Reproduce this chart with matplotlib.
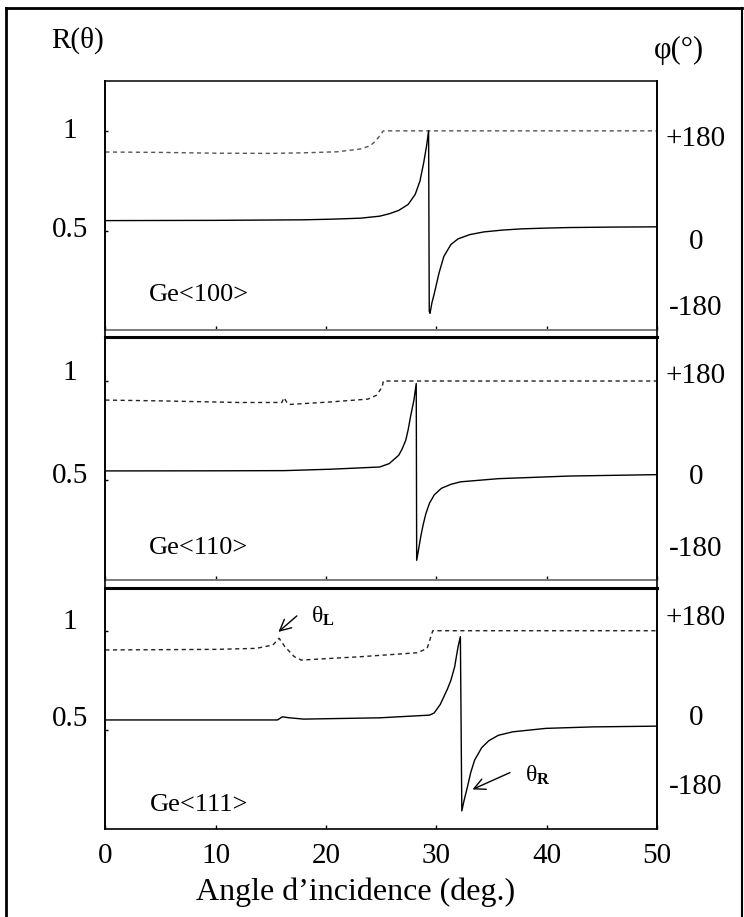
import matplotlib
matplotlib.use("Agg")
import matplotlib.pyplot as plt
from matplotlib.lines import Line2D
from matplotlib.transforms import blended_transform_factory, ScaledTranslation

plt.rcParams["font.family"] = ["Liberation Serif", "DejaVu Serif"]
plt.rcParams["mathtext.fontset"] = "custom"
plt.rcParams["mathtext.rm"] = "Liberation Serif"
plt.rcParams["mathtext.bf"] = "Liberation Serif:bold"
plt.rcParams["mathtext.it"] = "Liberation Serif:italic"

# ---------------- data ----------------
crystals = ["Ge<100>", "Ge<110>", "Ge<111>"]

# reflectivity R(theta)  (dashed)
r100_angle = [0, 5, 10, 15, 18, 21, 23.1, 24.0, 24.4, 24.8, 25.2, 30, 40, 50]
r100_value = [0.894, 0.892, 0.888, 0.887, 0.890, 0.895, 0.909, 0.925, 0.944, 0.970, 1.0, 1.0, 1.0, 1.0]

r110_angle = [0, 5, 12, 16.0, 16.2, 16.5, 16.7, 20.5, 23.8, 24.6, 25.1, 25.2, 30, 40, 50]
r110_value = [0.904, 0.900, 0.892, 0.892, 0.916, 0.888, 0.882, 0.895, 0.909, 0.929, 0.971, 1.0, 1.0, 1.0, 1.0]

r111_angle = [0, 10, 13.68, 15.19, 15.75, 16.27, 17.13, 17.77, 23.15, 28.31, 29.17, 29.51, 29.68, 40, 50]
r111_value = [0.903, 0.906, 0.911, 0.928, 0.962, 0.920, 0.869, 0.852, 0.869, 0.889, 0.911, 0.970, 1.0, 1.0, 1.0]

# phase phi (degrees)  (solid)
p100_angle = [0, 10, 17.98, 20.56, 23.14, 24.87, 25.73, 26.59, 27.45, 28.09, 28.52, 28.86,
              29.12, 29.30, 29.36, 29.43, 29.60, 29.82, 30.24, 30.68, 31.32, 31.97, 33.04,
              34.33, 36.0, 37.77, 40.0, 42.07, 46.0, 50]
p100_value = [0, 0.5, 1.6, 2.9, 4.9, 8.9, 13.7, 20.4, 32.5, 52.7, 79.6, 116.7,
              150.3, 180, -182, -186, -165, -146, -105.5, -72, -48, -36.6, -28,
              -22.6, -19, -16.5, -15, -13.9, -13, -12.5]

p110_angle = [0, 10, 16.27, 20.5, 24.87, 25.73, 26.59, 26.9, 27.23, 27.45, 27.66, 27.97, 28.18,
              28.22, 28.4, 28.6, 28.8, 29.04, 29.38, 29.82, 30.46, 31.32, 32.18, 35.62, 42.07, 50]
p110_value = [-1, -0.8, -0.4, 2.5, 6.9, 13.7, 30.5, 43, 60.8, 82, 108, 141.6, 175,
              -181, -158, -132, -110, -88, -66, -49, -36, -28, -23, -16.6, -11.3, -8.5]

p111_angle = [0, 15.6, 16.05, 16.7, 17.98, 24.87, 29.38, 29.8, 30.35, 31.0, 31.32, 31.66, 31.97,
              32.18, 32.31, 32.52, 32.82, 33.12, 33.47, 34.11, 34.75, 35.62, 36.91, 39.92,
              44.2, 50]
p111_value = [0, 0, 6.3, 4.3, 1.7, 4.3, 9.7, 14, 31, 62, 80, 107, 147.7,
              168, -183.6, -162, -135, -106, -81, -56, -42, -31, -24, -17,
              -14, -12.5]

x_ticks = [0, 10, 20, 30, 40, 50]
r_ticks = [1, 0.5]
phase_ticks = [180, 0, -180]
phase_labels = ["+180", "0", "-180"]

refl = [(r100_angle, r100_value), (r110_angle, r110_value), (r111_angle, r111_value)]
phase = [(p100_angle, p100_value), (p110_angle, p110_value), (p111_angle, p111_value)]

# ---------------- layout (pixels) ----------------
W, H = 744, 917
fig = plt.figure(figsize=(W / 100, H / 100), dpi=100)

x_left, x_right = 105.3, 657.0
panels_px = [(81.0, 330.3), (337.3, 579.7), (587.7, 829.0)]
r_top = [1.25, 1.22, 1.217]
deg_per_r = 400.0  # phase scale: 180 deg sits at R = 1

# vertical pixel offsets of the printed axis numbers (down = positive)
left_offsets = [(0, -1), (-8, -4), (-9, -11)]
right_offsets = [(8, 21, -2), (-5, 7, -11), (-13, -2, -22)]
label_y = [0.1416, 0.131, 0.0995]
dash_colors = ["#555555", "#222222", "#222222"]

def fx(px):
    return px / W

def fy(py):
    return 1 - py / H

def px_offset(dy):
    return ScaledTranslation(0, -dy / 100, fig.dpi_scale_trans)

axes = []
for i, (top, bot) in enumerate(panels_px):
    ax = fig.add_axes([fx(x_left), fy(bot), fx(x_right) - fx(x_left), (bot - top) / H])
    axes.append(ax)
    ax.set_xlim(0, 50)
    ax.set_ylim(0, r_top[i])

    a, v = refl[i]
    ax.plot(a, v, color=dash_colors[i], lw=1.0, dashes=(3, 2.5))

    axp = ax.twinx()
    axp.set_ylim(180 + (0 - 1) * deg_per_r, 180 + (r_top[i] - 1) * deg_per_r)
    a, v = phase[i]
    axp.plot(a, v, color="black", lw=1.0)
    for s in axp.spines.values():
        s.set_visible(False)
    axp.set_yticks([])

    # frame
    for s in ax.spines.values():
        s.set_color("black")
        s.set_linewidth(1.2)
    if i == 0:
        ax.spines["top"].set_linewidth(1.1)
    else:
        ax.spines["top"].set_linewidth(2.2)
    if i < 2:
        ax.spines["bottom"].set_color("#7a7a7a")
        ax.spines["bottom"].set_linewidth(1.4)

    ax.set_yticks(r_ticks)
    ax.set_yticklabels([])
    ax.tick_params(axis="y", direction="in", length=2.5, width=1.0, left=True, right=False)
    ax.set_xticks(x_ticks)
    ax.tick_params(axis="x", direction="in", length=3, width=1.0, top=False)
    if i < 2:
        ax.set_xticklabels([])
    else:
        ax.set_xticklabels([str(t) for t in x_ticks], fontsize=21)
        ax.tick_params(axis="x", pad=10)

    # left axis numbers
    tl = blended_transform_factory(ax.transAxes, ax.transData)
    for val, off in zip(r_ticks, left_offsets[i]):
        ax.text((70 - x_left) / (x_right - x_left), val, "1" if val == 1 else "0.5",
                transform=tl + px_offset(off), ha="center", va="center", fontsize=21)

    # right axis numbers
    tr = blended_transform_factory(axp.transAxes, axp.transData)
    for val, lab, off in zip(phase_ticks, phase_labels, right_offsets[i]):
        axp.text((696 - x_left) / (x_right - x_left), val, lab,
                 transform=tr + px_offset(off), ha="center", va="center", fontsize=21)

    ax.text((199 - x_left) / (x_right - x_left), label_y[i], crystals[i],
            transform=ax.transAxes, ha="center", va="center", fontsize=19)

# continuous side rails across the panel gaps
for xp in (x_left, x_right):
    fig.add_artist(Line2D([fx(xp), fx(xp)], [fy(81), fy(829)], color="black", lw=1.2))

# annotations on the Ge<111> panel
ax3 = axes[2]
ax3.annotate("", xy=(15.5, 0.985), xytext=(17.55, 1.084),
             arrowprops=dict(arrowstyle="->", lw=1.0, color="black", mutation_scale=20))
ax3.text(18.6, 1.075, r"θ$_{\mathbf{L}}$", fontsize=17, ha="left", va="center")
ax3.annotate("", xy=(33.05, 0.194), xytext=(36.9, 0.29),
             arrowprops=dict(arrowstyle="->", lw=1.0, color="black", mutation_scale=20))
ax3.text(38.0, 0.27, r"θ$_{\mathbf{R}}$", fontsize=17, ha="left", va="center")

# titles of the two scales and the abscissa
fig.text(fx(78), fy(40), "R(θ)", fontsize=21, ha="center", va="center")
fig.text(fx(679), fy(50), "φ(°)", fontsize=22, ha="center", va="center")
fig.text(fx(356), fy(892), "Angle d’incidence (deg.)", fontsize=23, ha="center", va="center")

# outer border
fig.add_artist(Line2D([fx(6), fx(742)], [fy(8), fy(8)], color="black", lw=2.0))
fig.add_artist(Line2D([fx(6), fx(6)], [fy(8), fy(917)], color="black", lw=2.0))
fig.add_artist(Line2D([fx(742), fx(742)], [fy(8), fy(917)], color="black", lw=1.5))

fig.savefig("out.png", dpi=100)
